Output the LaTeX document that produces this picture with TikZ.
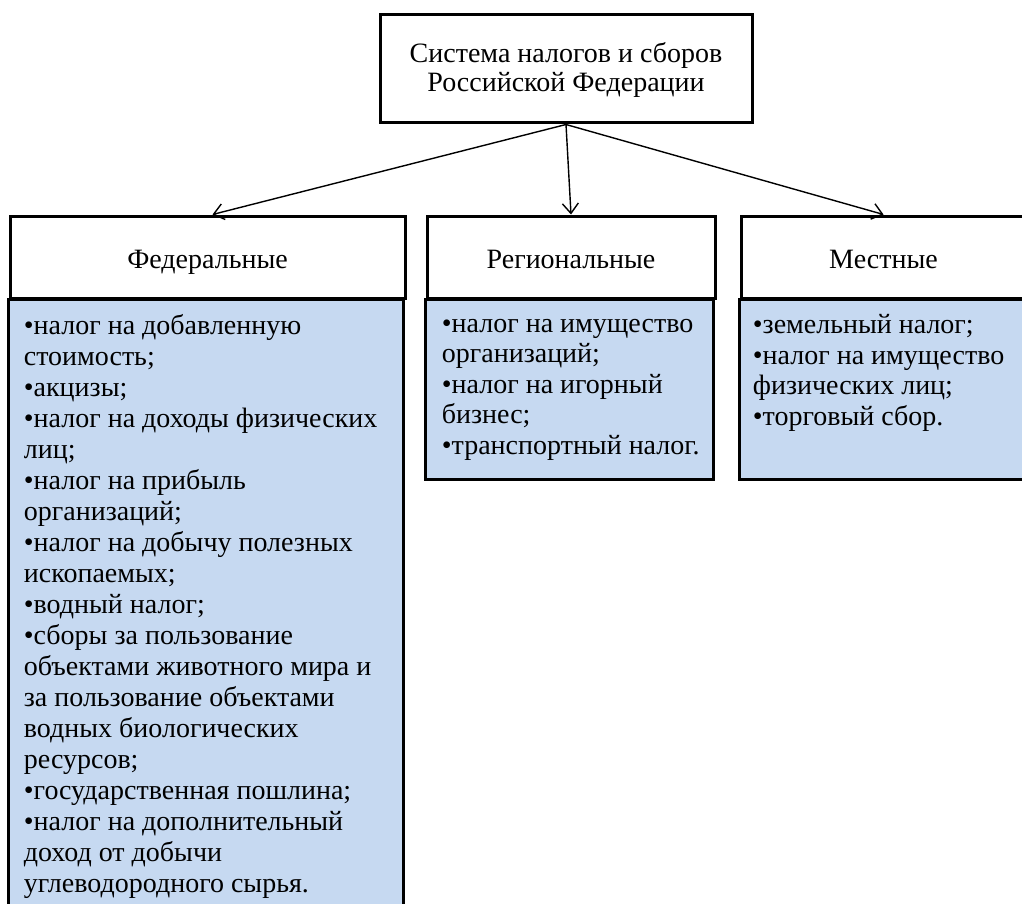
\documentclass[tikz,border=0pt]{standalone}
\usepackage{fontspec}
\setmainfont{Liberation Serif}
\usetikzlibrary{arrows.meta,positioning}
\definecolor{paleblue}{HTML}{C6D9F1}
\tikzset{frame/.style={draw,line width=1.5pt},
hd/.style={frame,fill=white,font=\fontsize{14}{15.2}\selectfont,inner sep=0pt,text height=14pt,text depth=3pt},
bodybox/.style={frame,fill=paleblue},
lst/.style={font=\fontsize{14}{15.3}\selectfont,align=left,inner sep=0pt,anchor=base west},
link/.style={-{Straight Barb[length=5pt,width=8pt]},line width=0.7pt}}

\begin{document}
\begin{tikzpicture}[x=0.5pt,y=-0.5pt]
\useasboundingbox (0,0) rectangle (1022,904);
% top box
\node[frame,fill=white,inner sep=0pt,minimum width=186pt,minimum height=54pt,align=center,font=\fontsize{14}{14.5}\selectfont,text height=26pt,text depth=3pt] (sys) at (566,69) {Система налогов и сборов\\Российской Федерации};
% three levels
\node[hd,minimum width=197.5pt,minimum height=41pt] (fed) at (207.5,257) {Федеральные};
\node[hd,minimum width=144pt,minimum height=41pt] (reg) at (571,257) {Региональные};
\node[hd,minimum width=142.5pt,minimum height=41pt] (loc) at (883.5,257) {Местные};
\draw[bodybox] (fed.south west) rectangle ++(395,612);
\draw[bodybox] (reg.south west) rectangle ++(288,180);
\draw[bodybox] (loc.south west) rectangle ++(285,180);
% lists (placed by the baseline of the last line)
\node[lst,font=\fontsize{14}{15.5}\selectfont] (fedlist) at ([shift={(15,593)}]fed.south west) {•налог на добавленную\\стоимость;\\•акцизы;\\•налог на доходы физических\\лиц;\\•налог на прибыль\\организаций;\\•налог на добычу полезных\\ископаемых;\\•водный налог;\\•сборы за пользование\\объектами животного мира и\\за пользование объектами\\водных биологических\\ресурсов;\\•государственная пошлина;\\•налог на дополнительный\\доход от добычи\\углеводородного сырья.};
\node[lst] (reglist) at ([shift={(16,155)}]reg.south west) {•налог на имущество\\организаций;\\•налог на игорный\\бизнес;\\•транспортный налог.};
\node[lst] (loclist) at ([shift={(13,126)}]loc.south west) {•земельный налог;\\•налог на имущество\\физических лиц;\\•торговый сбор.};
% arrows
\draw[link] (sys.south) -- ([xshift=2.5pt]fed.north);
\draw[link] (sys.south) -- (reg.north);
\draw[link] (sys.south) -- (loc.north);
\end{tikzpicture}
\end{document}
